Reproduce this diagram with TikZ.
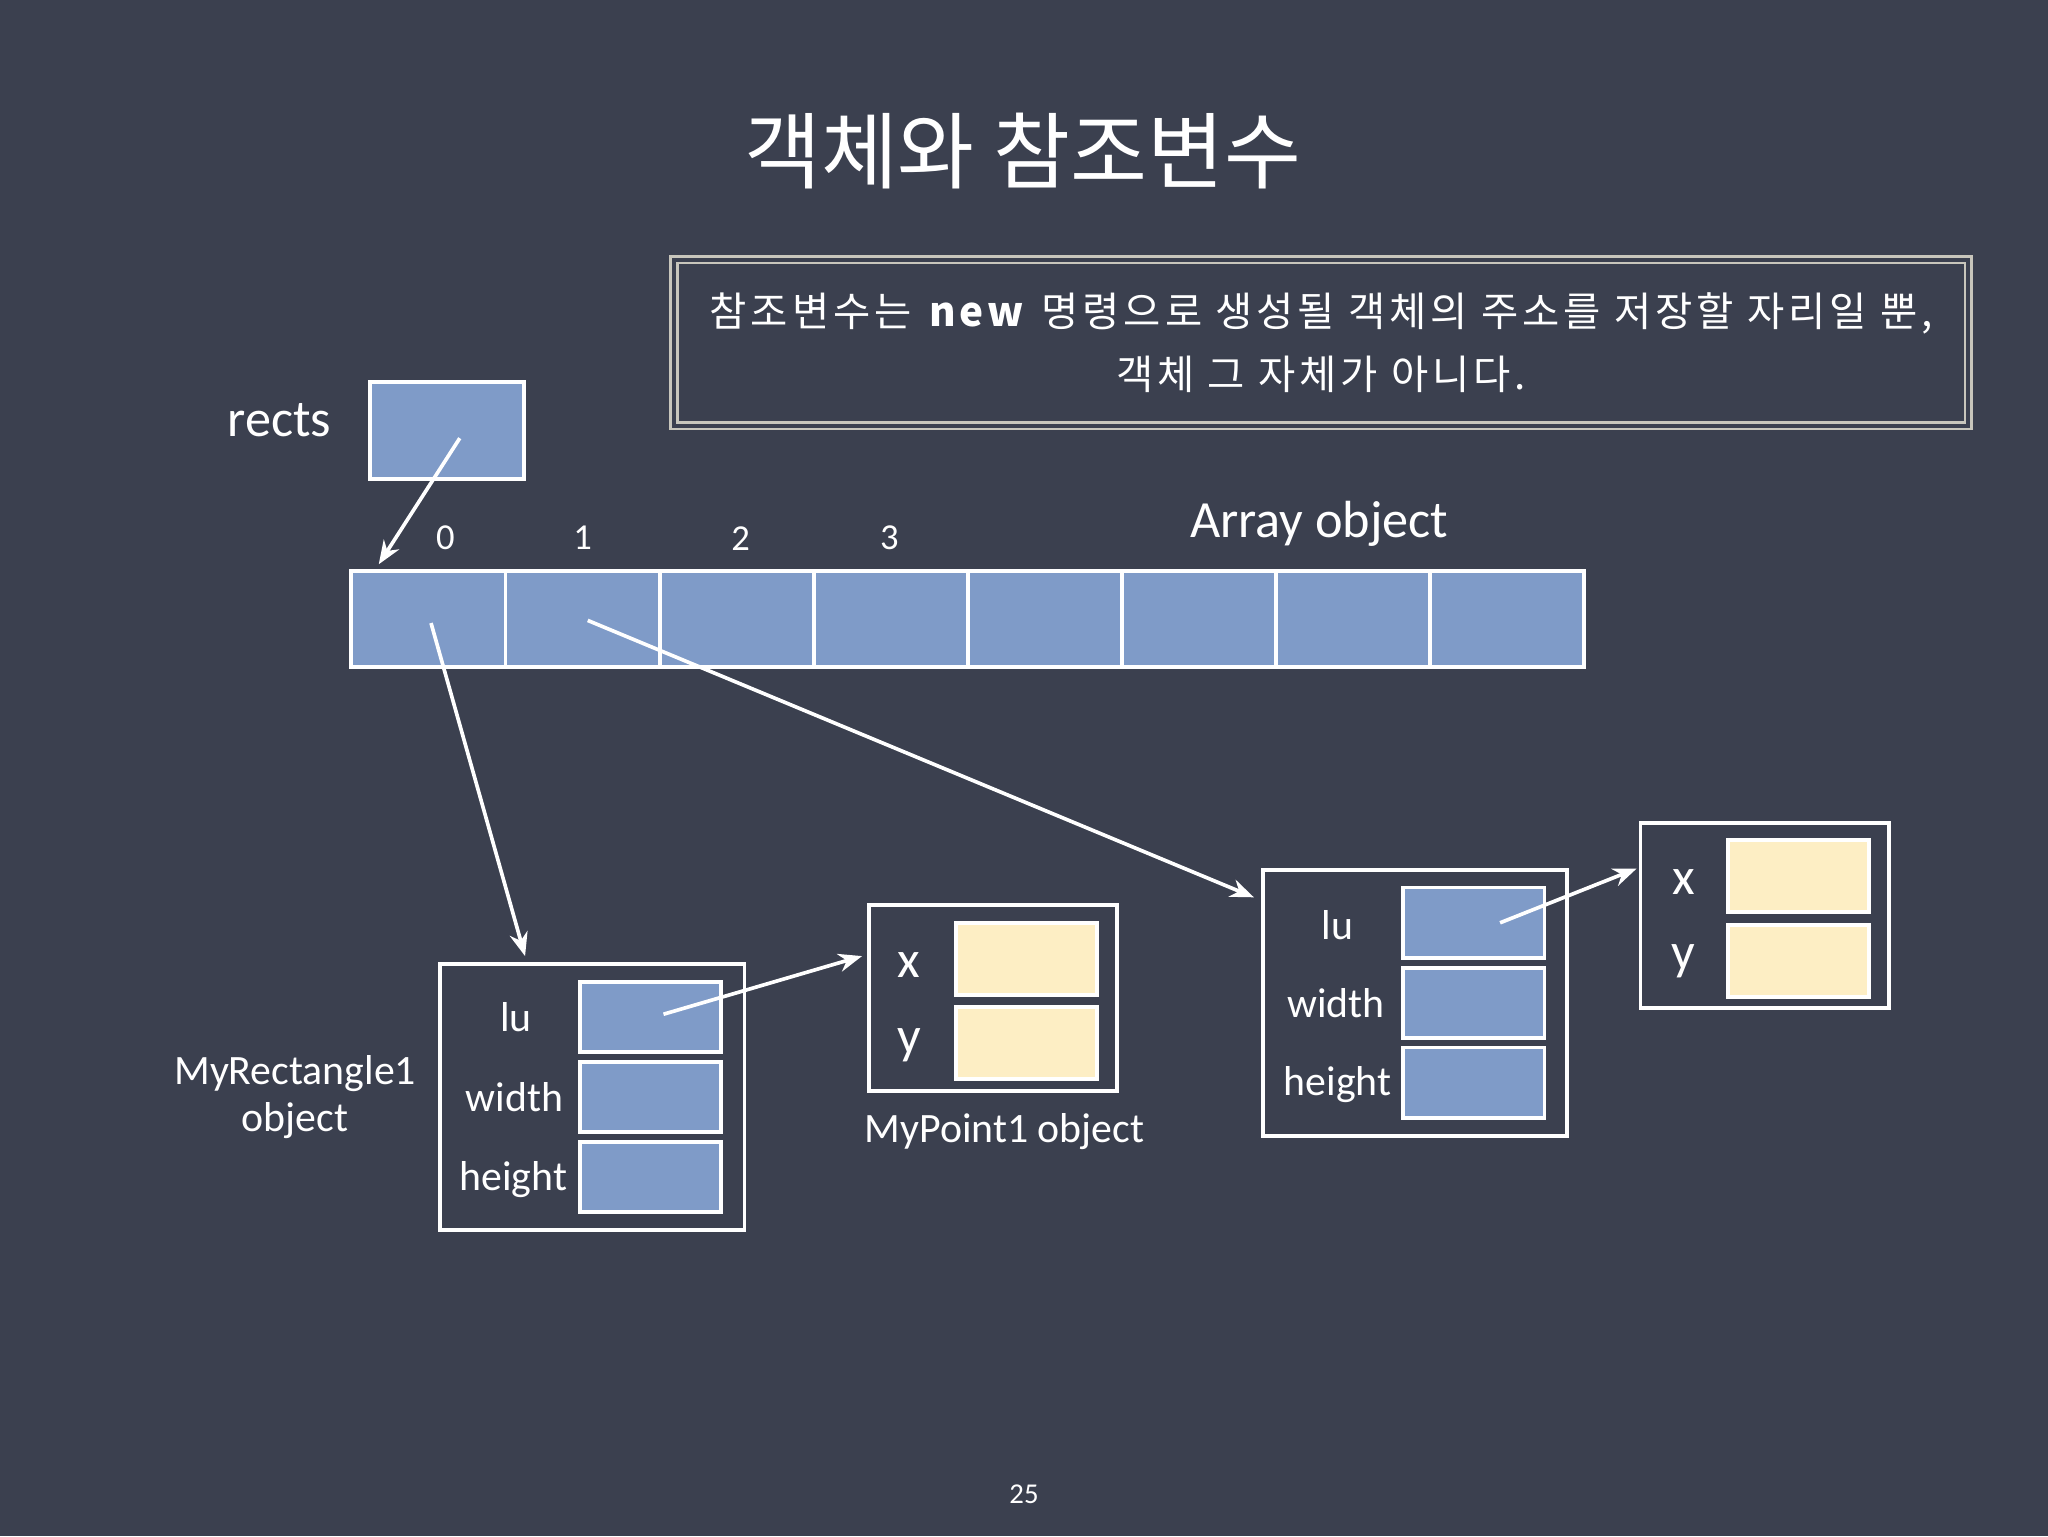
\documentclass[tikz,border=0pt]{standalone}
\usepackage{fontspec}
\setmainfont{Carlito}
\newfontfamily\kr{Noto Sans CJK KR}
\newfontfamily\krwide[LetterSpace=10]{Noto Sans CJK KR}
\usetikzlibrary{arrows.meta}
\definecolor{board}{RGB}{59,64,79}
\definecolor{slot}{RGB}{127,155,200}
\definecolor{cream}{RGB}{253,238,196}
\definecolor{chalk}{RGB}{200,198,188}

\begin{document}
\begin{tikzpicture}[
        x=1pt,y=-1pt,
        cell/.style={draw=white,line width=3pt,fill=slot,minimum width=118pt,minimum height=74pt},
        field/.style={draw=white,line width=3pt,fill=slot,minimum width=108pt,minimum height=54pt},
        pfield/.style={draw=white,line width=3pt,fill=cream,minimum width=108pt,minimum height=55pt},
        rectobj/.style={draw=white,line width=3pt,minimum width=233pt,minimum height=204pt},
        pointobj/.style={draw=white,line width=3pt,minimum width=190pt,minimum height=142pt},
        notebox/.style={draw=chalk,line width=2pt,double=board,double distance=3pt,minimum width=991pt,minimum height=127pt},
        txt/.style={text=white,font=\fontsize{32}{36}\selectfont},
        bigtxt/.style={text=white,font=\fontsize{40}{44}\selectfont},
        ptr/.style={draw=white,line width=2.8pt,-{Stealth[length=18pt,width=14pt]}}
    ]

    % board
    \fill[board] (0,0) rectangle (1568,1176);

    \node[text=white,font=\kr\fontsize{64}{68}\selectfont] (title) at (783,116) {객체와 참조변수};

    \node[notebox,text=white,align=center,font=\krwide\fontsize{31}{48}\selectfont] (note) at (1011.5,262.5)
        {참조변수는 \textbf{new} 명령으로 생성될 객체의 주소를 저장할 자리일 뿐,\\객체 그 자체가 아니다.};

    % reference variable
    \node[bigtxt] (rectslbl) at (214,322) {rects};
    \node[cell] (rects) at (342,329.5) {};

    % array object
    \node[cell] (a0) at (328,474) {};
    \node[cell] (a1) at (446,474) {};
    \node[cell] (a2) at (564,474) {};
    \node[cell] (a3) at (682,474) {};
    \node[cell] (a4) at (800,474) {};
    \node[cell] (a5) at (918,474) {};
    \node[cell] (a6) at (1036,474) {};
    \node[cell] (a7) at (1154,474) {};

    \node[txt,font=\fontsize{28}{30}\selectfont] (i0) at (341,412) {0};
    \node[txt,font=\fontsize{28}{30}\selectfont] (i1) at (446,412) {1};
    \node[txt,font=\fontsize{28}{30}\selectfont] (i2) at (567,412) {2};
    \node[txt,font=\fontsize{28}{30}\selectfont] (i3) at (681,412) {3};
    \node[bigtxt] (arraylbl) at (1010,401) {Array object};

    % first rectangle and point
    \node[rectobj] (rect1) at (453.5,840) {};
    \node[field] (r1lu) at (498,778.5) {};
    \node[field] (r1w) at (498,840) {};
    \node[field] (r1h) at (498,901) {};
    \node[txt] at (395,779) {lu};
    \node[txt] at (394,840) {width};
    \node[txt] at (393,903) {height};
    \node[txt,align=center] (rect1lbl) at (226,840) {MyRectangle1\\object};

    \node[pointobj] (pt1) at (760,764) {};
    \node[pfield] (p1x) at (786,734.5) {};
    \node[pfield] (p1y) at (786,798.5) {};
    \node[bigtxt] at (696,739) {x};
    \node[bigtxt] at (696,800) {y};
    \node[txt] (pt1lbl) at (769,866) {MyPoint1 object};

    % second rectangle and point
    \node[rectobj] (rect2) at (1083.5,768) {};
    \node[field] (r2lu) at (1128.5,706.5) {};
    \node[field] (r2w) at (1128.5,768) {};
    \node[field] (r2h) at (1128.5,829) {};
    \node[txt] at (1024,708) {lu};
    \node[txt] at (1023,768) {width};
    \node[txt] at (1024,830) {height};

    \node[pointobj] (pt2) at (1351,701) {};
    \node[pfield] (p2x) at (1377,670.5) {};
    \node[pfield] (p2y) at (1377,735.5) {};
    \node[bigtxt] at (1289,675) {x};
    \node[bigtxt] at (1289,736) {y};

    % references
    \coordinate (toa0) at (290,432);
    \coordinate (torect1) at (402,732);
    \coordinate (torect2) at (960,687);
    \coordinate (topt1) at (660,732);
    \coordinate (topt2) at (1253,665);

    \draw[ptr] ([xshift=10pt,yshift=-6pt]rects.center) -- (toa0);
    \draw[ptr] ([xshift=2pt,yshift=-3pt]a0.center) -- (torect1);
    \draw[ptr] ([xshift=4pt,yshift=-1pt]a1.center) -- (torect2);
    \draw[ptr] ([xshift=10pt,yshift=2pt]r1lu.center) -- (topt1);
    \draw[ptr] ([xshift=20pt]r2lu.center) -- (topt2);

    \node[text=white,font=\fontsize{22}{24}\selectfont] (page) at (784,1144) {25};

\end{tikzpicture}
\end{document}
